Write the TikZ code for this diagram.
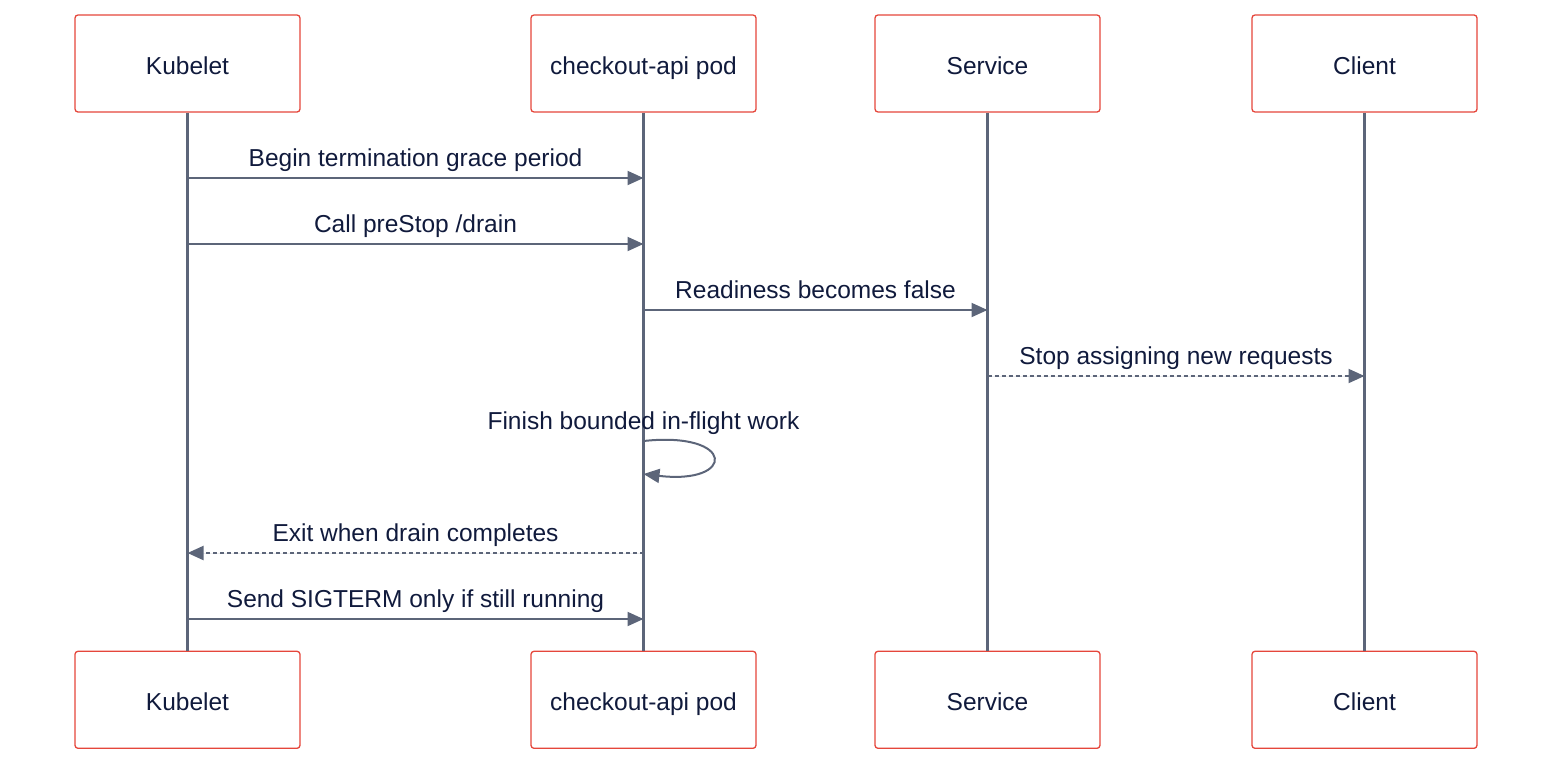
\documentclass[tikz,border=0pt]{standalone}
\usepackage{fontspec}
\setmainfont{Liberation Sans}
\usetikzlibrary{arrows.meta, positioning}

\definecolor{boxred}{HTML}{E5463B}
\definecolor{lifegray}{HTML}{5C6579}
\definecolor{inkblue}{HTML}{101A3C}

\begin{document}
\begin{tikzpicture}[x=1pt, y=-1pt, >={Triangle[length=16pt, width=14pt]},
    actor/.style={draw=boxred, fill=white, line width=1.3pt, rounded corners=3pt,
        minimum width=225pt, minimum height=97pt, text=inkblue,
        text height=21pt, text depth=0pt, font=\fontsize{24.5}{29}\selectfont},
    lifeline/.style={draw=lifegray, line width=3pt},
    msg/.style={draw=lifegray, fill=lifegray, line width=2pt},
    reply/.style={msg, dash pattern=on 4pt off 3pt},
    lbl/.style={midway, yshift=18pt, inner sep=0pt, text=inkblue,
        text height=17pt, text depth=5pt, font=\fontsize{24.5}{29}\selectfont}]
    \useasboundingbox (0,0) rectangle (1568,772);

    % participants, top row
    \node[actor] (kubT) at (187.5,63.5) {Kubelet};
    \node[actor] (podT) at (643.5,63.5) {checkout-api pod};
    \node[actor] (svcT) at (987.5,63.5) {Service};
    \node[actor] (cliT) at (1364.5,63.5) {Client};
    % participants, bottom row
    \node[actor, below=538pt of kubT] (kubB) {Kubelet};
    \node[actor, below=538pt of podT] (podB) {checkout-api pod};
    \node[actor, below=538pt of svcT] (svcB) {Service};
    \node[actor, below=538pt of cliT] (cliB) {Client};

    % lifelines
    \draw[lifeline] (kubT.south) -- (kubB.north);
    \draw[lifeline] (podT.south) -- (podB.north);
    \draw[lifeline] (svcT.south) -- (svcB.north);
    \draw[lifeline] (cliT.south) -- (cliB.north);

    % message rows
    \coordinate (m1) at (0,178);
    \coordinate (m2) at (0,244);
    \coordinate (m3) at (0,310);
    \coordinate (m4) at (0,376);
    \coordinate (m5) at (0,441);
    \coordinate (m5e) at (0,474);
    \coordinate (m6) at (0,553);
    \coordinate (m7) at (0,619);

    \draw[msg, ->] (kubT |- m1) -- (podT |- m1) node[lbl] {Begin termination grace period};
    \draw[msg, ->] (kubT |- m2) -- (podT |- m2) node[lbl] {Call preStop /drain};
    \draw[msg, ->] (podT |- m3) -- (svcT |- m3) node[lbl] {Readiness becomes false};
    \draw[reply, ->] (svcT |- m4) -- (cliT |- m4) node[lbl] {Stop assigning new requests};

    % self call on the pod
    \draw[msg, fill=none, ->] (podT |- m5) .. controls (736,431) and (736,485) .. (podT |- m5e);
    \node[inner sep=0pt, text=inkblue, text height=17pt, text depth=5pt,
        font=\fontsize{24.5}{29}\selectfont, above=6pt of podT |- m5] (selfLbl)
        {Finish bounded in-flight work};

    \draw[reply, ->] (podT |- m6) -- (kubT |- m6) node[lbl] {Exit when drain completes};
    \draw[msg, ->] (kubT |- m7) -- (podT |- m7) node[lbl] {Send SIGTERM only if still running};
\end{tikzpicture}
\end{document}
